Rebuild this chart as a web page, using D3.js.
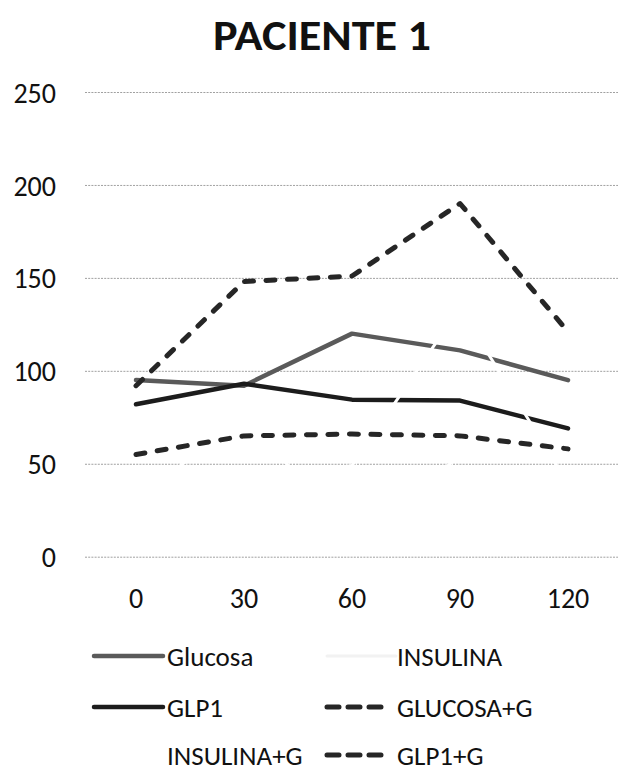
<!DOCTYPE html>
<html>
<head>
<meta charset="utf-8">
<script src="https://cdn.jsdelivr.net/npm/d3@7"></script>
<style>
  html, body { margin: 0; padding: 0; background: #fff; }
  svg { display: block; }
  text { font-family: Carlito, Lato, "Open Sans", sans-serif; fill: #111; }
</style>
</head>
<body>
<svg id="chart" width="618" height="775"></svg>
<script>
// Time points (minutes)
const categories = ["0", "30", "60", "90", "120"];

// Series values
const glucosa   = [95, 92, 120, 111, 95];
const insulina  = [30, 76, 10, 54, 60];
const glp1      = [82, 93, 84.5, 84, 69];
const glucosaG  = [92, 148, 151, 190, 121];
const insulinaG = [20, 40, 49, 134, 39];
const glp1G     = [55, 65, 66, 65, 58];

// Value axis ticks
const yTicks = [0, 50, 100, 150, 200, 250];

const title = "PACIENTE 1";

const series = [
  { name: "Glucosa",    values: glucosa,   color: "#5a5a5a", width: 4.5, dash: null, legend: [92, 656, 167] },
  { name: "INSULINA",   values: insulina,  color: "#ffffff", width: 3,   dash: null, legend: [325, 656, 397], swatch: "#f2f2f2" },
  { name: "GLP1",       values: glp1,      color: "#1c1c1c", width: 4.5, dash: null, legend: [92, 707, 167] },
  { name: "GLUCOSA+G",  values: glucosaG,  color: "#262626", width: 5,   dash: "9,12.5", legend: [325, 707, 397] },
  { name: "INSULINA+G", values: insulinaG, color: "#ffffff", width: 3,   dash: null, legend: [92, 755, 167] },
  { name: "GLP1+G",     values: glp1G,     color: "#262626", width: 5,   dash: "9,12.5", legend: [325, 755, 397] }
];

const svg = d3.select("#chart");

const plot = { left: 82, right: 622, top: 92, bottom: 556.7 };

const x = d3.scaleBand().domain(categories).range([plot.left, plot.right]);
const xc = d => x(d) + x.bandwidth() / 2;
const y = d3.scaleLinear().domain([0, 250]).range([plot.bottom, plot.top]);

// Title
svg.append("text")
  .attr("x", 322).attr("y", 50)
  .attr("text-anchor", "middle")
  .attr("textLength", 218)
  .attr("lengthAdjust", "spacingAndGlyphs")
  .style("font-size", "42px").style("font-weight", "bold")
  .text(title);

// Gridlines
const grid = svg.append("g")
  .attr("transform", `translate(${plot.left + 3},0)`)
  .call(d3.axisLeft(y).tickValues(yTicks).tickSize(-(618 - plot.left)).tickFormat(""));
grid.select(".domain").remove();
grid.selectAll(".tick line")
  .attr("stroke", "#a0a0a0").attr("stroke-width", 1).attr("stroke-dasharray", "2,1.2");

// Value axis labels
const yAxis = svg.append("g")
  .attr("transform", "translate(56,0)")
  .call(d3.axisLeft(y).tickValues(yTicks).tickSize(0).tickPadding(0));
yAxis.select(".domain").remove();
yAxis.selectAll("text").style("font-size", "28px").attr("fill", "#111").attr("dy", "0.36em");

// Category axis labels
const xAxis = svg.append("g")
  .attr("transform", "translate(0,588)")
  .call(d3.axisBottom(x).tickSize(0).tickPadding(0));
xAxis.select(".domain").remove();
xAxis.selectAll("text").style("font-size", "28px").attr("fill", "#111").attr("dy", "0.72em");

// Lines
const line = d3.line()
  .x((d, i) => xc(categories[i]))
  .y(d => y(d));

series.forEach(s => {
  svg.append("path")
    .datum(s.values)
    .attr("d", line)
    .attr("fill", "none")
    .attr("stroke", s.color)
    .attr("stroke-width", s.width)
    .attr("stroke-linejoin", "round")
    .attr("stroke-linecap", "round")
    .attr("stroke-dasharray", s.dash);
});

// Legend
const legend = svg.append("g");
series.forEach(s => {
  const [sx, sy, tx] = s.legend;
  legend.append("line")
    .attr("x1", sx + 2).attr("x2", s.dash ? sx + 62 : sx + 71)
    .attr("y1", sy).attr("y2", sy)
    .attr("stroke", s.swatch || s.color)
    .attr("stroke-width", s.width)
    .attr("stroke-linecap", "round")
    .attr("stroke-dasharray", s.dash ? "12,9" : null);
  legend.append("text")
    .attr("x", tx).attr("y", sy)
    .attr("dy", "0.36em")
    .style("font-size", "27px")
    .text(s.name);
});
</script>
</body>
</html>
